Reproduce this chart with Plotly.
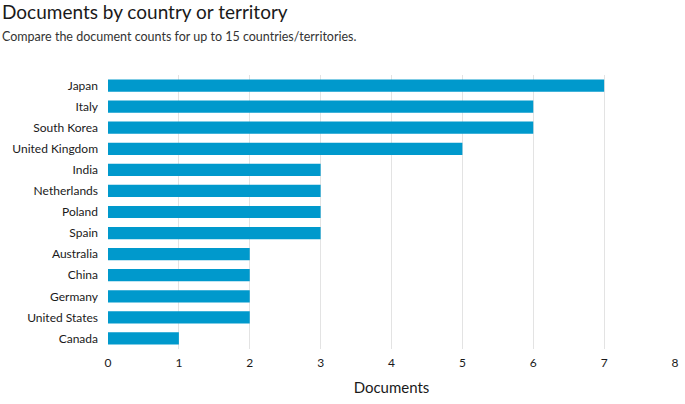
import plotly.graph_objects as go

countries = ["Japan", "Italy", "South Korea", "United Kingdom", "India", "Netherlands",
             "Poland", "Spain", "Australia", "China", "Germany", "United States", "Canada"]
documents = [7, 6, 6, 5, 3, 3, 3, 3, 2, 2, 2, 2, 1]
x_ticks = [0, 1, 2, 3, 4, 5, 6, 7, 8]

fig = go.Figure(go.Bar(
    x=documents, y=countries, orientation="h",
    marker=dict(color="#0099CC", line=dict(width=0)),
    width=0.58,
))

font_family = "Lato, Open Sans, sans-serif"
fig.update_layout(
    width=685, height=404,
    margin=dict(l=108, r=6, t=75, b=55),
    paper_bgcolor="white", plot_bgcolor="white",
    showlegend=False,
    font=dict(family=font_family, color="#1a1a1a", size=12),
    xaxis=dict(range=[0, 8], tickvals=x_ticks, showgrid=True, gridcolor="#e3e3e3",
               gridwidth=1, zeroline=False, showline=False, ticks="",
               ticklabelstandoff=5,
               tickfont=dict(size=12, color="#1a1a1a"),
               title=dict(text="Documents", font=dict(size=15, color="#1a1a1a"), standoff=13)),
    yaxis=dict(categoryorder="array", categoryarray=countries[::-1], showgrid=False,
               ticks="", ticklen=0, ticklabelstandoff=9,
               tickfont=dict(size=12, color="#1a1a1a"),
               automargin=False),
    annotations=[
        dict(text="Documents by country or territory", xref="paper", yref="paper",
             x=-0.191, y=1.23, xanchor="left", yanchor="middle", showarrow=False,
             font=dict(size=19, color="#1a1a1a", family=font_family)),
        dict(text="Compare the document counts for up to 15 countries/territories.",
             xref="paper", yref="paper", x=-0.191, y=1.141, xanchor="left",
             yanchor="middle", showarrow=False,
             font=dict(size=12.5, color="#333333", family=font_family)),
    ],
)
fig.write_html("out.html", config={"displayModeBar": False},
               post_script="document.body.style.margin='0';")
